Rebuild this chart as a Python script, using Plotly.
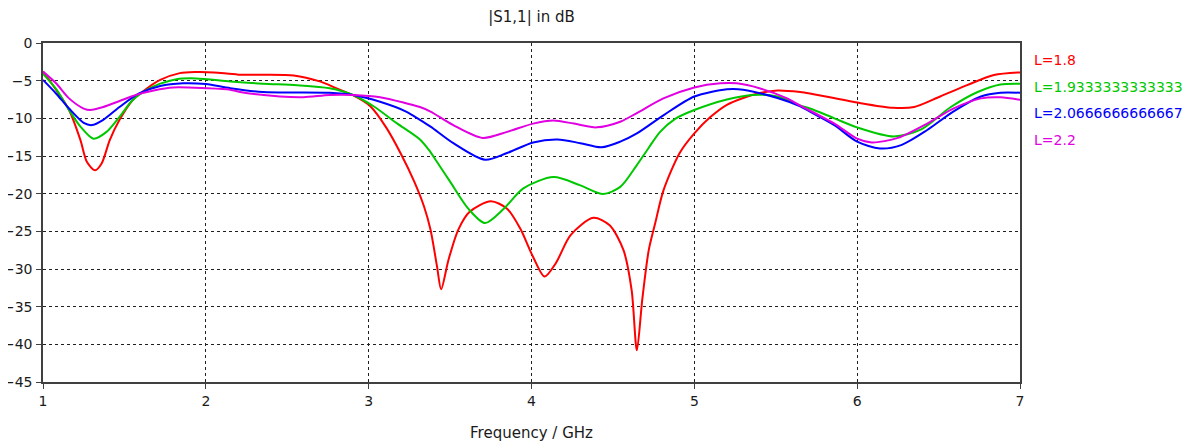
import plotly.graph_objects as go

# |S1,1| in dB vs frequency (GHz), one sweep per L value
freq_l1 = [1.0, 1.08, 1.16, 1.23, 1.27, 1.32, 1.36, 1.41, 1.47, 1.55, 1.64, 1.72, 1.84, 1.94,
           2.05, 2.2, 2.54, 2.70, 2.80, 2.90, 3.01, 3.11, 3.2, 3.28, 3.34, 3.38, 3.42, 3.445,
           3.49, 3.55, 3.62, 3.75, 3.85, 3.93, 4.01, 4.08, 4.15, 4.24, 4.38, 4.48, 4.565,
           4.615, 4.647, 4.68, 4.72, 4.76, 4.81, 4.91, 5.0, 5.1, 5.2, 5.3, 5.39, 5.51, 5.65,
           5.71, 6.0, 6.22, 6.35, 6.51, 6.675, 6.84, 7.0]
s11_l1 = [-3.8, -6.2, -8.9, -12.9, -15.8, -16.9, -16.0, -12.9, -10.2, -7.6, -6.0, -4.9, -4.0, -3.85,
          -3.9, -4.2, -4.3, -5.1, -6.0, -6.9, -8.4, -11.3, -14.8, -18.4, -21.7, -24.8, -29.7, -32.7,
          -28.8, -24.8, -22.4, -21.0, -22.0, -24.6, -28.4, -31.0, -29.2, -25.5, -23.2, -24.2, -27.5,
          -32.8, -40.8, -34.1, -27.5, -23.9, -19.6, -14.6, -12.0, -9.8, -8.2, -7.3, -6.7, -6.3, -6.5,
          -6.7, -7.9, -8.6, -8.5, -7.1, -5.6, -4.25, -3.9]

freq_l2 = [1.0, 1.08, 1.16, 1.23, 1.31, 1.39, 1.47, 1.55, 1.64, 1.72, 1.82, 1.94, 2.15, 2.35,
           2.56, 2.76, 2.905, 3.03, 3.17, 3.315, 3.37, 3.42, 3.5, 3.61, 3.715, 3.83,
           3.95, 4.135, 4.3, 4.44, 4.545, 4.647, 4.72, 4.79, 4.88, 5.0, 5.2, 5.36, 5.51, 5.65, 5.71,
           5.86, 6.0, 6.225, 6.39, 6.575, 6.74, 6.88, 7.0]
s11_l2 = [-4.1, -6.1, -8.9, -11.1, -12.7, -11.8, -9.8, -7.6, -6.2, -5.4, -4.8, -4.7, -5.1, -5.4,
          -5.6, -6.0, -6.9, -8.4, -10.6, -12.8, -14.2, -15.8, -18.4, -21.95, -23.9, -22.0,
          -19.3, -17.8, -18.9, -20.05, -19.1, -16.2, -13.9, -11.8, -10.1, -8.9, -7.5, -6.9, -7.1, -8.3, -8.7,
          -10.0, -11.2, -12.4, -11.5, -8.5, -6.5, -5.5, -5.4]

freq_l3 = [1.0, 1.08, 1.16, 1.25, 1.3, 1.37, 1.47, 1.59, 1.72, 1.86, 2.0, 2.15, 2.35, 2.76,
           2.905, 3.07, 3.23, 3.315, 3.38, 3.52, 3.715, 3.85, 4.01, 4.16, 4.3, 4.43, 4.545,
           4.647, 4.81, 5.0, 5.2, 5.3, 5.51, 5.65, 5.71, 5.86, 6.0, 6.14, 6.27, 6.43, 6.59,
           6.76, 6.88, 7.0]
s11_l3 = [-4.9, -6.7, -8.7, -10.6, -10.9, -10.2, -8.5, -6.7, -5.7, -5.35, -5.45, -6.0, -6.5, -6.6,
          -6.9, -7.8, -9.1, -10.2, -11.1, -13.3, -15.5, -14.6, -13.2, -12.8, -13.3, -13.85, -13.1,
          -12.0, -9.6, -7.1, -6.15, -6.2, -7.3, -8.4, -9.1, -10.9, -13.1, -14.0, -13.55, -11.55, -9.1,
          -7.1, -6.6, -6.6]

freq_l4 = [1.0, 1.08, 1.16, 1.25, 1.29, 1.37, 1.47, 1.57, 1.68, 1.8, 2.0, 2.15, 2.21, 2.455,
           2.6, 2.76, 2.905, 3.07, 3.23, 3.315, 3.38, 3.52, 3.7, 3.85, 4.01, 4.135, 4.26, 4.4,
           4.545, 4.647, 4.81, 5.0, 5.16, 5.26, 5.4, 5.57, 5.65, 5.86, 6.0, 6.09, 6.25, 6.43,
           6.59, 6.76, 6.88, 7.0]
s11_l4 = [-3.8, -5.35, -7.35, -8.7, -8.9, -8.5, -7.7, -6.9, -6.3, -5.9, -6.0, -6.2, -6.5, -7.1,
          -7.2, -6.9, -6.9, -7.2, -8.0, -8.5, -9.1, -10.9, -12.6, -11.8, -10.7, -10.3, -10.7, -11.2,
          -10.45, -9.3, -7.35, -5.9, -5.35, -5.35, -6.0, -7.35, -8.3, -10.7, -12.7, -13.2, -12.6, -10.7,
          -8.7, -7.35, -7.2, -7.55]

labels = ["L=1.8", "L=1.9333333333333", "L=2.0666666666667", "L=2.2"]
colors = ["#ff0000", "#00c800", "#0000ff", "#e100e1"]
series = [(freq_l1, s11_l1), (freq_l2, s11_l2), (freq_l3, s11_l3), (freq_l4, s11_l4)]

FONT = "DejaVu Sans"

# the page body adds an 8px margin, so the figure is sized 8px smaller
W, H = 1187, 434

fig = go.Figure()
for (x, y), name, c in zip(series, labels, colors):
    fig.add_trace(go.Scatter(x=x, y=y, mode="lines", name=name, showlegend=False,
                             line=dict(color=c, width=2, shape="spline", smoothing=0.8)))

# legend drawn as coloured text to the right of the plot
for i, (name, c) in enumerate(zip(labels, colors)):
    fig.add_annotation(text=name, xref="paper", yref="paper", x=1.0, xshift=12,
                       y=1 - (17 + 26.7 * i) / 339, xanchor="left", yanchor="middle",
                       showarrow=False, font=dict(family=FONT, size=14, color=c))

axis_common = dict(showline=True, linecolor="#404040", linewidth=1.5, mirror=True,
                   showgrid=True, gridcolor="#202020", gridwidth=1, griddash="3px,3px",
                   ticks="outside", ticklen=5, tickcolor="#404040", zeroline=False,
                   automargin=False,
                   tickfont=dict(family=FONT, size=14, color="#1a1a1a"))

fig.update_xaxes(range=[1, 7], dtick=1, title=dict(text="Frequency / GHz", standoff=20,
                 font=dict(family=FONT, size=15, color="#1a1a1a")), **axis_common)
fig.update_yaxes(range=[-45, 0], dtick=5, ticklabelstandoff=1, **axis_common)

fig.update_layout(
    width=W, height=H,
    margin=dict(l=35, r=175, t=35, b=60),
    paper_bgcolor="white", plot_bgcolor="white",
    title=dict(text="|S1,1| in dB", x=0.5, xref="paper", y=1 - 9 / H, yanchor="middle",
               automargin=False, font=dict(family=FONT, size=15, color="#1a1a1a")),
)

fig.write_html("out.html")
